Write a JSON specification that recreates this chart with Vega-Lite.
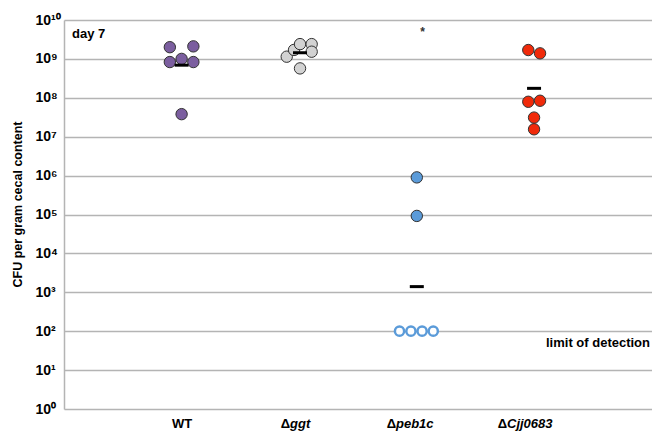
{
  "$schema": "https://vega.github.io/schema/vega-lite/v6.json",
  "width": 588,
  "height": 389,
  "autosize": {"type": "none"},
  "padding": {"left": 64, "top": 20, "right": 0, "bottom": 23},
  "background": "white",
  "config": {"view": {"stroke": null}, "font": "Liberation Sans"},
  "datasets": {
    "cfu": [
      {"group": "WT", "x": 0.9, "v": 2.0e9, "kind": "filled"},
      {"group": "WT", "x": 1.1, "v": 2.1e9, "kind": "filled"},
      {"group": "WT", "x": 0.9, "v": 8.3e8, "kind": "filled"},
      {"group": "WT", "x": 1.1, "v": 8.3e8, "kind": "filled"},
      {"group": "WT", "x": 1.0, "v": 1.0e9, "kind": "filled"},
      {"group": "WT", "x": 1.0, "v": 3.8e7, "kind": "filled"},
      {"group": "ggt", "x": 1.894, "v": 1.14e9, "kind": "filled"},
      {"group": "ggt", "x": 1.956, "v": 1.7e9, "kind": "filled"},
      {"group": "ggt", "x": 2.007, "v": 2.4e9, "kind": "filled"},
      {"group": "ggt", "x": 2.106, "v": 2.4e9, "kind": "filled"},
      {"group": "ggt", "x": 2.106, "v": 1.53e9, "kind": "filled"},
      {"group": "ggt", "x": 2.007, "v": 5.7e8, "kind": "filled"},
      {"group": "peb1c", "x": 3.0, "v": 9.0e5, "kind": "filled"},
      {"group": "peb1c", "x": 3.0, "v": 9.2e4, "kind": "filled"},
      {"group": "peb1c", "x": 2.853, "v": 100, "kind": "open"},
      {"group": "peb1c", "x": 2.95, "v": 100, "kind": "open"},
      {"group": "peb1c", "x": 3.045, "v": 100, "kind": "open"},
      {"group": "peb1c", "x": 3.14, "v": 100, "kind": "open"},
      {"group": "Cjj0683", "x": 3.948, "v": 1.69e9, "kind": "filled"},
      {"group": "Cjj0683", "x": 4.048, "v": 1.39e9, "kind": "filled"},
      {"group": "Cjj0683", "x": 3.948, "v": 7.9e7, "kind": "filled"},
      {"group": "Cjj0683", "x": 4.048, "v": 8.4e7, "kind": "filled"},
      {"group": "Cjj0683", "x": 3.997, "v": 3.1e7, "kind": "filled"},
      {"group": "Cjj0683", "x": 3.997, "v": 1.55e7, "kind": "filled"}
    ],
    "means": [
      {"group": "WT", "x": 1.0, "v": 6.9e8},
      {"group": "ggt", "x": 2.007, "v": 1.44e9},
      {"group": "peb1c", "x": 3.0, "v": 1.4e3},
      {"group": "Cjj0683", "x": 3.997, "v": 1.75e8}
    ],
    "strains": [
      {"x": 0.918, "v": 0.33, "pre": "", "name": "WT", "italic": false},
      {"x": 1.922, "v": 0.33, "pre": "Δ", "name": "ggt", "italic": true},
      {"x": 2.823, "v": 0.33, "pre": "Δ", "name": "peb1c", "italic": true},
      {"x": 3.767, "v": 0.33, "pre": "Δ", "name": "Cjj0683", "italic": true}
    ],
    "notes": [
      {"x": 0.068, "v": 3.44e9, "text": "day 7", "pos": "left"},
      {"x": 4.983, "v": 39, "text": "limit of detection", "pos": "right"}
    ],
    "signif": [
      {"x": 3.05, "v": 5.0e9, "text": "*"}
    ]
  },
  "encoding": {
    "x": {"field": "x", "type": "quantitative", "scale": {"domain": [0, 5]}, "axis": null},
    "y": {
      "field": "v",
      "type": "quantitative",
      "scale": {"type": "log", "domain": [1, 1e10]},
      "axis": {
        "values": [1, 10, 100, 1000, 10000, 100000, 1000000, 10000000, 100000000, 1000000000, 10000000000],
        "labelExpr": "['10⁰','10¹','10²','10³','10⁴','10⁵','10⁶','10⁷','10⁸','10⁹','10¹⁰'][round(log(datum.value)/LN10)]",
        "labelFont": "Liberation Sans",
        "labelFontWeight": "bold",
        "labelFontSize": 14,
        "labelColor": "black",
        "labelAlign": "left",
        "labelBaseline": "middle",
        "labelPadding": 29,
        "labelOverlap": false,
        "ticks": false,
        "grid": true,
        "gridColor": "#b4b4b4",
        "gridWidth": 1.5,
        "domainColor": "#b4b4b4",
        "domainWidth": 1.5,
        "title": "CFU per gram cecal content",
        "titleFont": "Liberation Sans",
        "titleFontWeight": "bold",
        "titleFontSize": 12.5,
        "titleColor": "black",
        "titleAngle": -90,
        "titleAlign": "center",
        "titleBaseline": "middle",
        "titleX": -47,
        "titleY": 184
      }
    }
  },
  "layer": [
    {
      "data": {"name": "cfu"},
      "transform": [{"filter": "datum.kind == 'filled'"}],
      "mark": {"type": "point", "shape": "circle", "filled": true, "size": 130, "opacity": 1, "stroke": "#333333", "strokeWidth": 1},
      "encoding": {
        "color": {
          "field": "group",
          "type": "nominal",
          "scale": {"domain": ["WT", "ggt", "peb1c", "Cjj0683"], "range": ["#7b5e9f", "#d2d2d2", "#5b9bd9", "#f02a0a"]},
          "legend": null
        }
      }
    },
    {
      "data": {"name": "cfu"},
      "transform": [{"filter": "datum.kind == 'open'"}],
      "mark": {"type": "point", "shape": "circle", "filled": false, "fill": "white", "size": 85, "opacity": 1, "stroke": "#5b9bd9", "strokeWidth": 2.5}
    },
    {
      "data": {"name": "means"},
      "mark": {"type": "tick", "orient": "horizontal", "size": 14, "thickness": 3, "color": "black", "opacity": 1}
    },
    {
      "data": {"name": "strains"},
      "transform": [{"filter": "datum.pre != ''"}],
      "mark": {"type": "text", "align": "right", "baseline": "alphabetic", "font": "Liberation Sans", "fontWeight": "bold", "fontSize": 13, "color": "black"},
      "encoding": {"text": {"field": "pre"}}
    },
    {
      "data": {"name": "strains"},
      "transform": [{"filter": "datum.italic"}],
      "mark": {"type": "text", "align": "left", "baseline": "alphabetic", "font": "Liberation Sans", "fontWeight": "bold", "fontStyle": "italic", "fontSize": 13, "color": "black"},
      "encoding": {"text": {"field": "name"}}
    },
    {
      "data": {"name": "strains"},
      "transform": [{"filter": "!datum.italic"}],
      "mark": {"type": "text", "align": "left", "baseline": "alphabetic", "font": "Liberation Sans", "fontWeight": "bold", "fontSize": 13, "color": "black"},
      "encoding": {"text": {"field": "name"}}
    },
    {
      "data": {"name": "notes"},
      "transform": [{"filter": "datum.pos == 'left'"}],
      "mark": {"type": "text", "align": "left", "baseline": "alphabetic", "font": "Liberation Sans", "fontWeight": "bold", "fontSize": 13, "color": "black"},
      "encoding": {"text": {"field": "text"}}
    },
    {
      "data": {"name": "notes"},
      "transform": [{"filter": "datum.pos == 'right'"}],
      "mark": {"type": "text", "align": "right", "baseline": "alphabetic", "font": "Liberation Sans", "fontWeight": "bold", "fontSize": 13, "color": "black"},
      "encoding": {"text": {"field": "text"}}
    },
    {
      "data": {"name": "signif"},
      "mark": {"type": "text", "align": "center", "baseline": "middle", "font": "Liberation Sans", "fontWeight": "bold", "fontSize": 12, "color": "#333333"},
      "encoding": {"text": {"field": "text"}}
    }
  ]
}
